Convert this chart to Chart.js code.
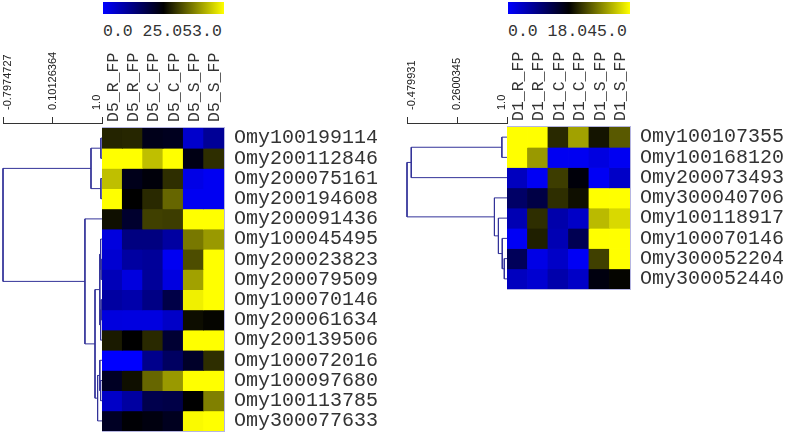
<!DOCTYPE html>
<html><head><meta charset="utf-8">
<script src="https://cdn.jsdelivr.net/npm/chart.js@4.4.1/dist/chart.umd.min.js"></script>
<style>
html,body{margin:0;padding:0;background:#fff;width:787px;height:436px;overflow:hidden;position:relative;}
.box{position:absolute;}
.cbar{position:absolute;height:12px;background:linear-gradient(to right,#0000ff,#000000 50%,#ffff00);}
.ctext{position:absolute;font-family:"Liberation Mono",monospace;font-size:16.5px;line-height:18px;color:#333;white-space:pre;}
</style></head><body>
<div class="cbar" style="left:103px;top:2px;width:121px"></div>
<div class="ctext" id="ltext" style="left:103px;top:23px"></div>
<div class="cbar" style="left:508px;top:2px;width:122px"></div>
<div class="ctext" id="rtext" style="left:508px;top:23px"></div>

<div class="box" style="left:0px;top:0px;width:110px;height:436px"><canvas id="ldend"></canvas></div>
<div class="box" style="left:102px;top:0px;width:287px;height:436px"><canvas id="lheat"></canvas></div>
<div class="box" style="left:400px;top:0px;width:115px;height:436px"><canvas id="rdend"></canvas></div>
<div class="box" style="left:507px;top:0px;width:280px;height:436px"><canvas id="rheat"></canvas></div>

<script>
// ---------- LEFT PANEL DATA ----------
const leftColumns = ['D5_R_FP','D5_R_FP','D5_C_FP','D5_C_FP','D5_S_FP','D5_S_FP'];
const leftGenes = ['Omy100199114','Omy200112846','Omy200075161','Omy200194608','Omy200091436',
  'Omy100045495','Omy200023823','Omy200079509','Omy100070146','Omy200061634',
  'Omy200139506','Omy100072016','Omy100097680','Omy100113785','Omy300077633'];
// values normalised: -1 = blue (low), 0 = black, 1 = yellow (high)
const leftValues = [
  [ 0.14,  0.15, -0.10, -0.12, -0.80, -0.59],
  [ 1.00,  1.00,  0.75,  1.00, -0.08,  0.18],
  [ 0.75, -0.10, -0.04,  0.18, -0.90, -0.95],
  [ 1.00,  0.00,  0.16,  0.40, -0.95, -0.95],
  [ 0.06, -0.18,  0.25,  0.24,  1.00,  1.00],
  [-0.87, -0.50, -0.50, -0.63,  0.47,  0.60],
  [-0.82, -0.63, -0.60, -0.95,  0.30,  1.00],
  [-0.72, -0.87, -0.60, -0.88,  0.63,  1.00],
  [-0.63, -0.67, -0.52, -0.28,  0.94,  1.00],
  [-0.87, -0.88, -0.88, -0.78,  0.05,  0.02],
  [ 0.10,  0.00,  0.16, -0.20,  1.00,  1.00],
  [-1.00, -1.00, -0.55, -0.38, -0.16,  0.18],
  [-0.14,  0.06,  0.40,  0.60,  1.00,  1.00],
  [-0.78, -0.63, -0.30, -0.28,  0.00,  0.50],
  [-0.14, -0.02, -0.06, -0.12,  0.98,  1.00]
];
// linkage: [childA, childB, similarity]; ids >= n refer to earlier merges
const leftMerges = [
  [0, 1, 0.98], [2, 3, 0.98], [15, 16, 0.80],
  [6, 7, 0.985], [5, 18, 0.975], [8, 9, 0.985], [20, 10, 0.975], [19, 21, 0.96],
  [12, 13, 0.975], [11, 23, 0.96], [24, 14, 0.92],
  [22, 25, 0.873], [4, 26, 0.69], [17, 27, -0.7974727]
];
const leftScaleTicks = [-0.7974727, 0.10126364, 1.0];
const leftScaleLabels = ['-0.7974727', '0.10126364', '1.0'];
const leftColorbarLabel = '0.0 25.053.0';

// ---------- RIGHT PANEL DATA ----------
const rightColumns = ['D1_R_FP','D1_R_FP','D1_C_FP','D1_C_FP','D1_S_FP','D1_S_FP'];
const rightGenes = ['Omy100107355','Omy100168120','Omy200073493','Omy300040706',
  'Omy100118917','Omy100070146','Omy300052204','Omy300052440'];
const rightValues = [
  [ 1.00,  1.00,  0.16,  0.63,  0.08,  0.35],
  [ 1.00,  0.60, -0.95, -0.95, -0.88, -0.95],
  [-0.75, -0.96,  0.24, -0.04, -0.96, -0.78],
  [-0.40, -0.27,  0.18,  0.06,  1.00,  1.00],
  [-0.70,  0.18, -0.67, -0.78,  0.73,  0.85],
  [-0.96,  0.12, -0.70, -0.32,  1.00,  1.00],
  [-0.35, -0.90, -0.78, -0.96,  0.25,  1.00],
  [-0.75, -0.82, -0.67, -0.78, -0.06,  0.02]
];
const rightMerges = [
  [0, 1, 0.924], [8, 2, -0.417],
  [6, 7, 0.96], [5, 10, 0.93], [4, 11, 0.873], [3, 12, 0.814],
  [9, 13, -0.479931]
];
const rightScaleTicks = [-0.479931, 0.2600345, 1.0];
const rightScaleLabels = ['-0.479931', '0.2600345', '1.0'];
const rightColorbarLabel = '0.0 18.045.0';

// ---------- helpers ----------
document.getElementById('ltext').textContent = leftColorbarLabel;
document.getElementById('rtext').textContent = rightColorbarLabel;

function cellColor(v) {
  const c = Math.round(Math.min(1, Math.abs(v)) * 255);
  return v < 0 ? `rgb(0,0,${c})` : `rgb(${c},${c},0)`;
}

const outline = {
  id: 'outline',
  afterDatasetsDraw(chart) {
    const a = chart.chartArea, ctx = chart.ctx;
    ctx.save();
    ctx.strokeStyle = 'rgba(120,120,200,0.55)';
    ctx.lineWidth = 1;
    ctx.strokeRect(a.left - 0.5, a.top - 0.5, a.right - a.left + 1, a.bottom - a.top + 1);
    ctx.restore();
  }
};

const COL_FONT = 16.5, SCALE_FONT = 11;
// per-tick label line heights give small sideways nudges of the rotated scale labels
const SCALE_LH = [10, 15, 20];

function makeHeatmap(id, columns, genes, values, topH, bottomPad, labelW) {
  const datasets = values.map((row, i) => ({
    label: genes[i],
    data: row.map(() => 1),
    backgroundColor: row.map(cellColor),
    borderWidth: 0,
    categoryPercentage: 1,
    barPercentage: 1,
    inflateAmount: 0.4,
    yAxisID: 'y'
  }));
  new Chart(document.getElementById(id), {
    type: 'bar',
    data: { labels: columns, datasets },
    options: {
      responsive: true, maintainAspectRatio: false, animation: false,
      layout: { padding: { left: 0, right: 0, top: 0, bottom: bottomPad } },
      plugins: { legend: { display: false }, tooltip: { enabled: false } },
      scales: {
        x: {
          type: 'category', position: 'top', stacked: true,
          grid: { display: false, drawTicks: false }, border: { display: false },
          ticks: { minRotation: 90, maxRotation: 90, autoSkip: false, padding: 6, color: '#333',
                   labelOffset: COL_FONT * 1.2 + 1,
                   font: { family: 'Liberation Mono', size: COL_FONT } },
          afterFit: s => { s.height = topH; s.paddingLeft = 0; s.paddingRight = 0; }
        },
        y: { type: 'linear', stacked: true, reverse: true, min: 0, max: genes.length, display: false },
        yl: {
          type: 'category', labels: genes, position: 'right', offset: true,
          grid: { display: false, drawTicks: false }, border: { display: false },
          ticks: { autoSkip: false, padding: 10, color: '#333', font: { family: 'Liberation Mono', size: 20 } },
          afterFit: s => { s.width = labelW; s.paddingTop = 0; s.paddingBottom = 0; }
        }
      }
    },
    plugins: [outline]
  });
}

function dendroDatasets(n, merges) {
  const h = [], y = [];
  for (let i = 0; i < n; i++) { h[i] = 1.0; y[i] = i + 0.5; }
  return merges.map((m, k) => {
    const [a, b, hm] = m;
    h[n + k] = hm; y[n + k] = (y[a] + y[b]) / 2;
    return {
      data: [{ x: h[a], y: y[a] }, { x: hm, y: y[a] }, { x: hm, y: y[b] }, { x: h[b], y: y[b] }],
      showLine: true, pointRadius: 0, borderColor: '#333399', borderWidth: 1,
      clip: false, fill: false, tension: 0
    };
  });
}

function makeDendro(id, n, merges, tickVals, tickLabels, axisH, yMin, bottomPad, leftPad, rightPad) {
  new Chart(document.getElementById(id), {
    type: 'scatter',
    data: { datasets: dendroDatasets(n, merges) },
    options: {
      responsive: true, maintainAspectRatio: false, animation: false,
      layout: { padding: { left: leftPad, right: rightPad, top: 0, bottom: bottomPad } },
      plugins: { legend: { display: false }, tooltip: { enabled: false } },
      scales: {
        x: {
          type: 'linear', position: 'top', min: tickVals[0], max: tickVals[tickVals.length - 1],
          afterBuildTicks: s => { s.ticks = tickVals.map(v => ({ value: v })); },
          ticks: { autoSkip: false, minRotation: 90, maxRotation: 90, padding: 7, color: '#222',
                   labelOffset: 15,
                   font: c => ({ family: 'Liberation Sans', size: SCALE_FONT,
                                 lineHeight: (SCALE_LH[c.index] !== undefined ? SCALE_LH[c.index] : 15) + 'px' }),
                   callback: (v, i) => tickLabels[i] },
          grid: { display: true, drawOnChartArea: false, drawTicks: true, tickLength: 6, color: '#333', lineWidth: 1 },
          border: { display: true, color: '#333', width: 1 },
          afterFit: s => { s.height = axisH; s.paddingLeft = 0; s.paddingRight = 0; }
        },
        y: { type: 'linear', reverse: true, min: yMin, max: n, display: false }
      }
    }
  });
}

// left: axis line at y=123, rows from 128 to 431 (20.2 px each)
makeDendro('ldend', leftGenes.length, leftMerges, leftScaleTicks, leftScaleLabels, 123, -5 / 20.2, 5, 3, 8);
makeHeatmap('lheat', leftColumns, leftGenes, leftValues, 128, 5, 165);
// right: axis line at y=123, rows from 127 to 289
makeDendro('rdend', rightGenes.length, rightMerges, rightScaleTicks, rightScaleLabels, 123, -4 / 20.25, 147, 7, 8);
makeHeatmap('rheat', rightColumns, rightGenes, rightValues, 127, 147, 157);
</script>
</body></html>
